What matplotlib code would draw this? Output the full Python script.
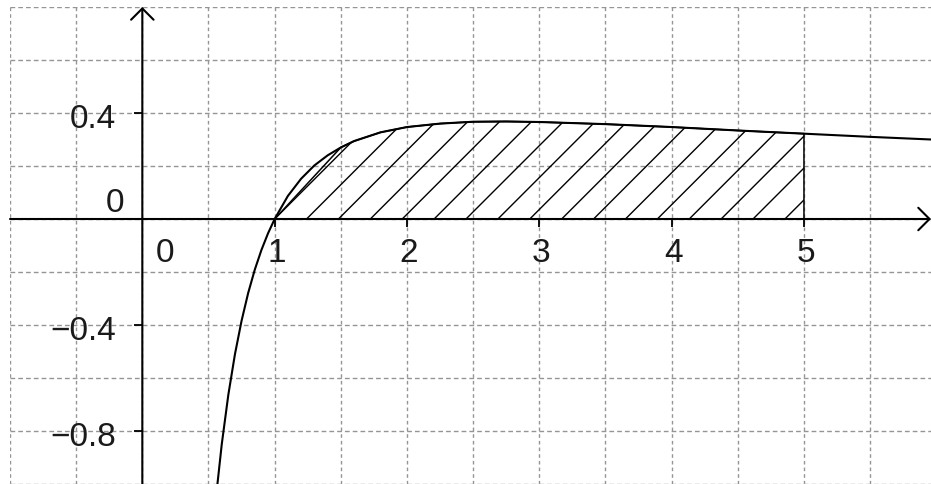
import numpy as np
import matplotlib
matplotlib.use('Agg')
import matplotlib.pyplot as plt

plt.rcParams['font.family'] = ['Liberation Sans', 'DejaVu Sans']
plt.rcParams['lines.scale_dashes'] = False

# points on the curve y = ln(x)/x
curve_x = [0.56, 0.6, 0.65, 0.7, 0.75, 0.8, 0.85, 0.9, 0.95, 1.0, 1.1, 1.2,
           1.3, 1.4, 1.5, 1.6, 1.8, 2.0, 2.25, 2.5, 2.75, 3.0, 3.5, 4.0, 4.5,
           5.0, 5.5, 5.96]
curve_y = [-1.035, -0.851, -0.663, -0.510, -0.384, -0.279, -0.191, -0.117,
           -0.054, 0.0, 0.087, 0.152, 0.202, 0.240, 0.270, 0.294, 0.327,
           0.347, 0.360, 0.367, 0.368, 0.366, 0.358, 0.347, 0.334, 0.322,
           0.310, 0.300]

# vertices of the shaded area between x = 1 and x = 5
area_x = [1.0, 1.5, 1.6, 1.8, 2.0, 2.25, 2.5, 2.75, 3.0, 3.5, 4.0, 4.5, 5.0]

x_ticks = [1, 2, 3, 4, 5]
x_labels = ['1', '2', '3', '4', '5']
y_ticks = [-0.8, -0.4, 0.4]
y_labels = ['\u22120.8', '\u22120.4', '0.4']

xmin, xmax = -1.0, 5.96
ymin, ymax = -1.0, 0.8

W, H = 931, 484
fig = plt.figure(figsize=(W / 100, H / 100), dpi=100)
ax_w, ax_h = 921, 477
ax = fig.add_axes([10 / W, 0, ax_w / W, ax_h / H])
ax.set_xlim(xmin, xmax)
ax.set_ylim(ymin, ymax)

for s in ax.spines.values():
    s.set_visible(False)
ax.spines['left'].set_position(('data', 0))
ax.spines['bottom'].set_position(('data', 0))

# dashed grid
for gx in np.arange(-1.0, 6.0, 0.5):
    ax.axvline(gx, color='#959595', lw=1.0, ls=(0, (2.6, 2.2)), zorder=0)
for gy in np.arange(-1.0, 0.81, 0.2):
    ax.axhline(gy, color='#959595', lw=1.0, ls=(0, (3.4, 2.2)), zorder=0)

ax.set_xticks(x_ticks)
ax.set_yticks(y_ticks)
ax.xaxis.set_ticks_position('bottom')
ax.yaxis.set_ticks_position('left')
ax.tick_params(direction='out', length=5.5, width=1.3, color='black',
               labelbottom=False, labelleft=False)

# axes with open arrow heads
arrow = dict(arrowstyle='->,head_length=0.45,head_width=0.45', lw=1.5,
             color='black', shrinkA=0, shrinkB=0, mutation_scale=18)
ax.annotate('', xy=(xmax, 0), xytext=(xmin, 0), arrowprops=arrow,
            annotation_clip=False, zorder=5)
ax.annotate('', xy=(0, ymax), xytext=(0, ymin), arrowprops=arrow,
            annotation_clip=False, zorder=5)

# shaded area
cx = np.array(curve_x)
cy = np.array(curve_y)
mask = np.isin(cx, area_x)
px = np.concatenate([cx[mask], [area_x[-1], area_x[0]]])
py = np.concatenate([cy[mask], [0.0, 0.0]])
poly = ax.fill(px, py, facecolor='none', edgecolor='black', lw=1.1,
               zorder=3)[0]

# hatch lines at 45 degrees on screen
slope = ((ymax - ymin) / ax_h) / ((xmax - xmin) / ax_w)
step = 0.241
for x0 in np.arange(area_x[0] - 4 * step, area_x[-1], step):
    hx = np.array([x0, area_x[-1] + 1])
    ln, = ax.plot(hx, slope * (hx - x0), color='black', lw=1.0, zorder=2)
    ln.set_clip_path(poly)

ax.plot(cx, cy, color='black', lw=1.5, zorder=4)

txt = dict(fontsize=24, color='#1a1a1a', textcoords='offset pixels',
           va='baseline', annotation_clip=False)
for t, lab in zip(x_ticks, x_labels):
    ax.annotate(lab, (t, 0), xytext=(2, -43), ha='center', **txt)
ax.annotate('0', (0, 0), xytext=(23, -43), ha='center', **txt)
for t, lab in zip(y_ticks, y_labels):
    ax.annotate(lab, (0, t), xytext=(-26, -15), ha='right', **txt)
ax.annotate('0', (0, 0), xytext=(-18, 7), ha='right', **txt)

fig.savefig('out.png', dpi=100)
